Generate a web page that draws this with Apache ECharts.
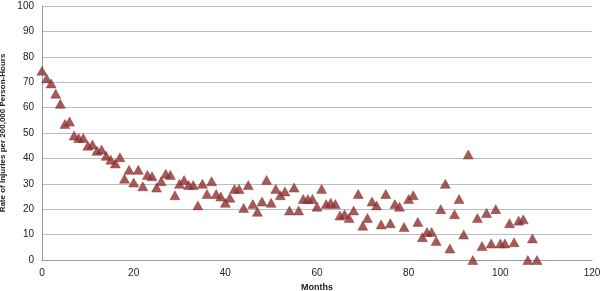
<!DOCTYPE html>
<html>
<head>
<meta charset="utf-8">
<script src="https://cdn.jsdelivr.net/npm/echarts@6/dist/echarts.min.js"></script>
<style>html,body{margin:0;padding:0;background:#fff}#c{width:600px;height:291px}</style>
</head>
<body>
<div id="c"></div>
<script>
const months = [];
for (let i = 0; i <= 108; i++) months.push(i);
const rates = [
74.5,71.5,69.5,65.5,61.5,53.5,54.5,49,48,48,
45,45.5,43,43.5,41,39.5,38,40.5,32,35.5,
30.5,35.5,29,33.5,33,28.5,31,34,33.5,25.5,
30,31.5,29.5,29.5,21.5,30,26,31,26,25,
22.5,24.5,28,28,20.5,29.5,22,19,23,31.5,
22.5,28,25.5,27,19.5,28.5,19.5,24,24,24,
21,28,22,22.5,22,17.5,18,16.5,19.5,26,
13.5,16.5,23,21.5,14,26,14.5,22,21,13,
24,25.5,15,9,11,11,7.5,20,30,4.5,
18,24,10,41.5,0,16.5,5.5,18.5,6.5,20,
6.5,6.5,14.5,7,15.5,16,0,8.5,0
];
const xTicks = [0,20,40,60,80,100,120];
const yTicks = [0,10,20,30,40,50,60,70,80,90,100];
const data = months.map((m,i)=>[m, rates[i]]);
const chart = echarts.init(document.getElementById('c'), null, {renderer:'canvas'});
const font = 'Liberation Sans';
chart.setOption({
  animation:false,
  grid:{left:42,right:8,top:6,bottom:31,containLabel:false,outerBoundsMode:'none'},
  xAxis:{
    type:'value',min:xTicks[0],max:xTicks[xTicks.length-1],interval:20,
    name:'Months',nameLocation:'middle',nameGap:22,
    nameTextStyle:{fontFamily:font,fontSize:9,fontWeight:'bold',color:'#222'},
    axisLine:{show:true,lineStyle:{color:'#999'}},
    axisTick:{show:false},
    splitLine:{show:false},
    axisLabel:{fontFamily:font,fontSize:10,color:'#222',margin:8}
  },
  yAxis:{
    type:'value',min:yTicks[0],max:yTicks[yTicks.length-1],interval:10,
    name:'Rate of Injuries per 200,000 Person-Hours',nameLocation:'middle',nameGap:34,
    nameTextStyle:{fontFamily:font,fontSize:8,fontWeight:'bold',color:'#222'},
    axisLine:{show:true,lineStyle:{color:'#999'}},
    axisTick:{show:false},
    splitLine:{show:true,lineStyle:{color:'#bdbdbd',width:1}},
    axisLabel:{fontFamily:font,fontSize:10,color:'#222',margin:8}
  },
  series:[{
    type:'scatter',data:data,symbol:'triangle',symbolSize:[10,9],
    itemStyle:{color:'#8f302e',borderColor:'#7a2a28',borderWidth:0.5}
  }]
});
</script>
</body>
</html>
